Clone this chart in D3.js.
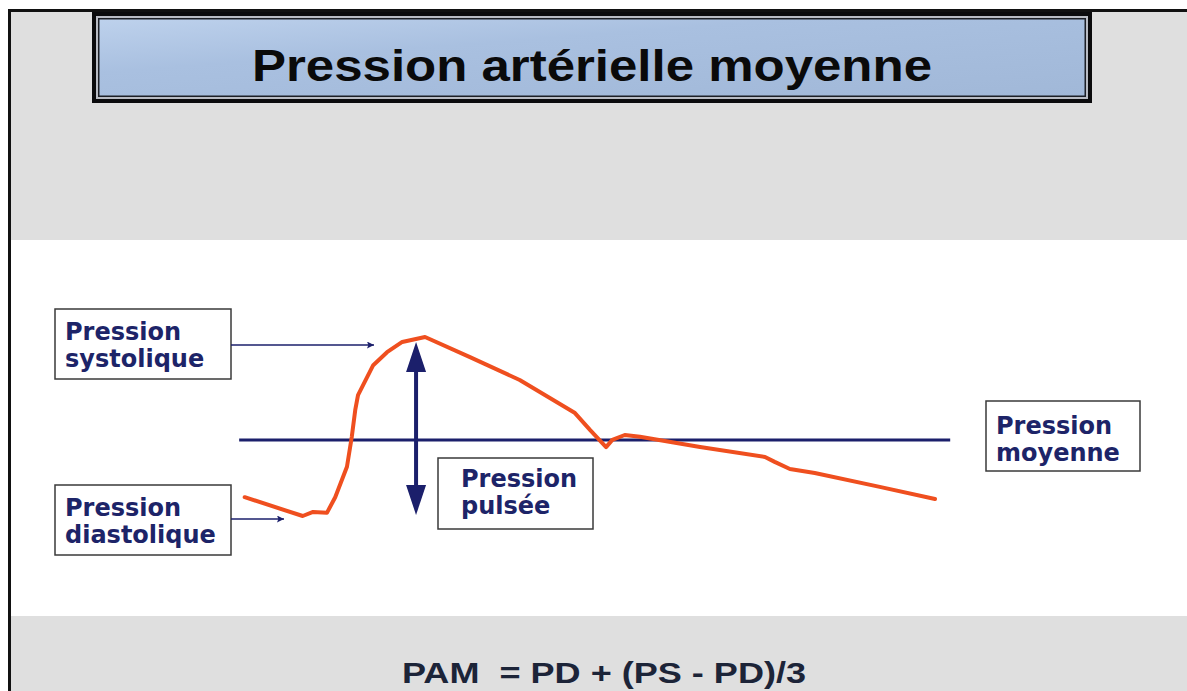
<!DOCTYPE html>
<html>
<head>
<meta charset="utf-8">
<script src="https://cdn.jsdelivr.net/npm/d3@7"></script>
<style>
  html, body { margin: 0; padding: 0; background: #fff; }
  svg { display: block; }
</style>
</head>
<body>
<svg id="chart" width="1187" height="691"></svg>
<script>
/* Arterial pressure wave, time in % of the cycle, pressure in mmHg */
let waveTime = [0.1, 8.5, 10.0, 12.0, 13.2, 14.9, 15.6, 16.1, 16.5, 18.7, 20.7, 22.9, 26.2,
                32.7, 39.9, 47.9, 50.1, 52.4, 53.3, 55.1, 57.3, 66.0, 75.4, 76.8, 79.0, 82.6, 92.0, 100];
let wavePressure = [84.2, 80, 80.9, 80.7, 84.2, 91.0, 97.7, 103.7, 107.0, 113.7, 116.6, 118.9, 120,
                    115.5, 110.4, 103.0, 99.2, 95.4, 97.0, 98.1, 97.7, 95.4, 93.2, 92.1, 90.5, 89.6, 86.5, 83.8];

let PS = 120;          // systolic
let PD = 80;           // diastolic
let PAM = 97;          // mean line as drawn
let meanExtent = [-0.7, 102.2];
let pulseTime = 24.9;  // where the pulse arrow stands

let title = "Pression artérielle moyenne";
let formula = "PAM  = PD + (PS - PD)/3";
let labels = [
  {lines: ["Pression", "systolique"], box: [55, 309, 176, 70], pad: 10, base: 31},
  {lines: ["Pression", "diastolique"], box: [55, 485, 176, 70], pad: 10, base: 31},
  {lines: ["Pression", "pulsée"], box: [438, 458, 155, 71], pad: 23, base: 29},
  {lines: ["Pression", "moyenne"], box: [986, 401, 154, 70], pad: 10, base: 33}
];

const navy = "#1b1f6b";
const textNavy = "#1d2468";
const orange = "#ef4f1f";

let svg = d3.select("#chart");

let x = d3.scaleLinear().domain([0, 100]).range([244, 935]);
let y = d3.scaleLinear().domain([PD, PS]).range([516, 337]);

/* slide background */
svg.append("rect").attr("x", 0).attr("y", 0).attr("width", 1187).attr("height", 691).attr("fill", "#fff");
svg.append("rect").attr("x", 9).attr("y", 10).attr("width", 1178).attr("height", 230).attr("fill", "#dfdfdf");
svg.append("rect").attr("x", 9).attr("y", 616).attr("width", 1178).attr("height", 75).attr("fill", "#dfdfdf");
svg.append("line").attr("x1", 8).attr("x2", 1187).attr("y1", 10.5).attr("y2", 10.5)
   .attr("stroke", "#111").attr("stroke-width", 3);
svg.append("line").attr("x1", 9.5).attr("x2", 9.5).attr("y1", 9).attr("y2", 691)
   .attr("stroke", "#111").attr("stroke-width", 3);

/* title banner */
let defs = svg.append("defs");
let grad = defs.append("linearGradient").attr("id", "blue")
   .attr("x1", "0%").attr("y1", "0%").attr("x2", "100%").attr("y2", "100%");
grad.append("stop").attr("offset", "0%").attr("stop-color", "#bdd1ec");
grad.append("stop").attr("offset", "35%").attr("stop-color", "#a9c0e0");
grad.append("stop").attr("offset", "100%").attr("stop-color", "#a1b8d8");

let mk = defs.append("marker").attr("id", "head")
   .attr("viewBox", "0 0 10 10").attr("refX", 10).attr("refY", 5)
   .attr("markerWidth", 13).attr("markerHeight", 7).attr("markerUnits", "userSpaceOnUse")
   .attr("orient", "auto");
mk.append("path").attr("d", "M0,0L10,5L0,10L2,5Z").attr("fill", navy);

svg.append("rect").attr("x", 92).attr("y", 12).attr("width", 1000).attr("height", 91).attr("fill", "#0b0b0d");
svg.append("rect").attr("x", 96).attr("y", 16).attr("width", 992).attr("height", 83).attr("fill", "#b9bcc4");
svg.append("rect").attr("x", 98).attr("y", 18).attr("width", 988).attr("height", 79).attr("fill", "#1c1f26");
svg.append("rect").attr("x", 99.5).attr("y", 19.5).attr("width", 985).attr("height", 76).attr("fill", "url(#blue)");

svg.append("text").attr("x", 252).attr("y", 81)
   .attr("font-family", "'Liberation Sans', Arial, sans-serif")
   .attr("font-weight", "bold").attr("font-size", 45)
   .attr("textLength", 680).attr("lengthAdjust", "spacingAndGlyphs")
   .attr("fill", "#0a0a0a")
   .text(title);

/* mean pressure line */
svg.append("line")
   .attr("x1", x(meanExtent[0])).attr("x2", x(meanExtent[1]))
   .attr("y1", y(PAM)).attr("y2", y(PAM))
   .attr("stroke", navy).attr("stroke-width", 3);

/* pulse pressure double arrow */
let ax = x(pulseTime);
let tipTop = y(PS) + 5, tipBot = y(PD) - 1;
svg.append("line").attr("x1", ax).attr("x2", ax).attr("y1", tipTop + 20).attr("y2", tipBot - 20)
   .attr("stroke", navy).attr("stroke-width", 4);
svg.append("path").attr("fill", navy)
   .attr("d", `M${ax},${tipTop}L${ax + 10},${tipTop + 30}L${ax - 10},${tipTop + 30}Z`);
svg.append("path").attr("fill", navy)
   .attr("d", `M${ax},${tipBot}L${ax + 10},${tipBot - 30}L${ax - 10},${tipBot - 30}Z`);

/* pressure wave */
let wave = waveTime.map((t, i) => ({t: t, p: wavePressure[i]}));
let line = d3.line().x(d => x(d.t)).y(d => y(d.p)).curve(d3.curveLinear);
svg.append("path")
   .attr("d", line(wave))
   .attr("fill", "none")
   .attr("stroke", orange).attr("stroke-width", 4)
   .attr("stroke-linejoin", "round").attr("stroke-linecap", "round");

/* label boxes */
labels.forEach(l => {
  let [bx, by, bw, bh] = l.box;
  svg.append("rect").attr("x", bx).attr("y", by).attr("width", bw).attr("height", bh)
     .attr("fill", "#fff").attr("stroke", "#3a3a3a").attr("stroke-width", 1.5);
  let t = svg.append("text")
     .attr("font-family", "'DejaVu Sans', Verdana, sans-serif")
     .attr("font-weight", "bold").attr("font-size", 24)
     .attr("fill", textNavy);
  l.lines.forEach((s, i) => {
    t.append("tspan").attr("x", bx + l.pad).attr("y", by + l.base + i * 27).text(s);
  });
});

/* pointer arrows from the systolic and diastolic labels */
svg.append("line").attr("x1", 231).attr("x2", 374).attr("y1", 345).attr("y2", 345)
   .attr("stroke", navy).attr("stroke-width", 1.5).attr("marker-end", "url(#head)");
svg.append("line").attr("x1", 231).attr("x2", 284).attr("y1", 519).attr("y2", 519)
   .attr("stroke", navy).attr("stroke-width", 1.5).attr("marker-end", "url(#head)");

/* formula */
svg.append("text").attr("x", 402).attr("y", 683)
   .attr("font-family", "'Liberation Sans', Arial, sans-serif")
   .attr("font-weight", "bold").attr("font-size", 30)
   .attr("textLength", 404).attr("lengthAdjust", "spacingAndGlyphs")
   .attr("fill", "#1c2438")
   .attr("xml:space", "preserve")
   .text(formula);
</script>
</body>
</html>
